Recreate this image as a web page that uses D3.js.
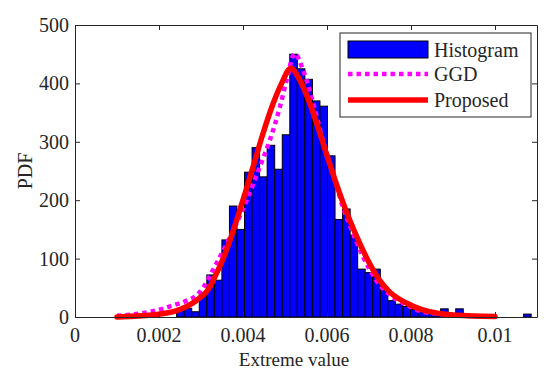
<!DOCTYPE html>
<html>
<head>
<meta charset="utf-8">
<script src="https://cdn.jsdelivr.net/npm/d3@7"></script>
<style>
  body { margin: 0; background: #fff; }
  svg { display: block; }
  text { font-family: "Liberation Serif", "Times New Roman", serif; fill: #262626; }
</style>
</head>
<body>
<svg id="chart"></svg>
<script>
// histogram bins (left edge of first bin, bin width, counts per bin)
const binStart = 0.00242;
const binWidth = 0.0001796;
const counts = [12, 15, 9, 38, 72, 63, 132, 190, 150, 248, 290, 240, 294, 253, 312, 450,
  425, 407, 370, 361, 276, 167, 185, 140, 82, 76, 82, 46, 28, 22, 18, 13, 9, 6, 5, 14,
  5, 14, 2, 1, 1, 0, 0, 0, 0, 0, 5];

// fitted curves
const ggdX = [0.00100, 0.00155, 0.00203, 0.00234, 0.00266, 0.00294, 0.00337, 0.00377, 0.00409,
  0.00440, 0.00464, 0.00488, 0.00504, 0.00523, 0.00543, 0.00567, 0.00590, 0.00614, 0.00638,
  0.00662, 0.00686, 0.00717, 0.00749, 0.00789, 0.00828, 0.00907, 0.01000];
const ggdY = [2, 6, 13, 20, 28, 40, 92, 149, 200, 257, 303, 360, 406, 451, 423, 366, 303, 246,
  188, 143, 103, 63, 38, 21, 9, 3, 1];

const propX = [0.00100, 0.00203, 0.00254, 0.00294, 0.00320, 0.00330, 0.00361, 0.00385, 0.00405,
  0.00424, 0.00448, 0.00472, 0.00492, 0.00514, 0.00535, 0.00559, 0.00583, 0.00606, 0.00630,
  0.00654, 0.00678, 0.00701, 0.00725, 0.00749, 0.00789, 0.00828, 0.00868, 0.00907, 0.01000];
const propY = [0, 5, 14, 31, 50, 64, 115, 166, 212, 257, 315, 366, 400, 426, 406, 366, 315, 263,
  212, 166, 126, 92, 63, 43, 24, 12, 6, 3, 1];

const xTicks = [0, 0.002, 0.004, 0.006, 0.008, 0.01];
const xTickLabels = ["0", "0.002", "0.004", "0.006", "0.008", "0.01"];
const yTicks = [0, 100, 200, 300, 400, 500];
const legendLabels = ["Histogram", "GGD", "Proposed"];

const width = 550, height = 375;
const margin = { top: 25, right: 13, bottom: 58, left: 75 };
const axisColor = "#262626";

const svg = d3.select("#chart").attr("width", width).attr("height", height);

const x = d3.scaleLinear().domain([0, 0.011]).range([margin.left, width - margin.right]);
const y = d3.scaleLinear().domain([0, 500]).range([height - margin.bottom, margin.top]);

// bars
const bins = counts.map((c, i) => ({ x0: binStart + i * binWidth, x1: binStart + (i + 1) * binWidth, c }));
svg.append("g")
  .selectAll("rect")
  .data(bins.filter(d => d.c > 0))
  .join("rect")
  .attr("x", d => x(d.x0))
  .attr("width", d => x(d.x1) - x(d.x0))
  .attr("y", d => y(d.c))
  .attr("height", d => y(0) - y(d.c))
  .attr("fill", "#0000ff")
  .attr("stroke", "#000")
  .attr("stroke-width", 1);

// curves
const line = d3.line().x(d => x(d[0])).y(d => y(d[1])).curve(d3.curveMonotoneX);

svg.append("path")
  .datum(ggdX.map((v, i) => [v, ggdY[i]]))
  .attr("d", line)
  .attr("fill", "none")
  .attr("stroke", "#ff00ff")
  .attr("stroke-width", 4.5)
  .attr("stroke-dasharray", "4.5,4");

svg.append("path")
  .datum(propX.map((v, i) => [v, propY[i]]))
  .attr("d", line)
  .attr("fill", "none")
  .attr("stroke", "#ff0000")
  .attr("stroke-width", 5.5)
  .attr("stroke-linecap", "round");

// axes (ticks pointing inward, box all round)
const x0 = margin.left, x1 = width - margin.right;
const y0 = height - margin.bottom, y1 = margin.top;

function styleAxis(g) {
  g.selectAll("path, line").attr("stroke", axisColor).attr("stroke-width", 1);
  g.selectAll("text").remove();
}

svg.append("g").attr("transform", `translate(0,${y0})`)
  .call(d3.axisBottom(x).tickValues(xTicks).tickSizeInner(-5).tickSizeOuter(0))
  .call(styleAxis);
svg.append("g").attr("transform", `translate(0,${y1})`)
  .call(d3.axisTop(x).tickValues(xTicks).tickSizeInner(-5).tickSizeOuter(0))
  .call(styleAxis);
svg.append("g").attr("transform", `translate(${x0},0)`)
  .call(d3.axisLeft(y).tickValues(yTicks).tickSizeInner(-5).tickSizeOuter(0))
  .call(styleAxis);
svg.append("g").attr("transform", `translate(${x1},0)`)
  .call(d3.axisRight(y).tickValues(yTicks).tickSizeInner(-5).tickSizeOuter(0))
  .call(styleAxis);

// tick labels
svg.append("g")
  .selectAll("text")
  .data(xTicks)
  .join("text")
  .attr("x", d => x(d))
  .attr("y", y0 + 25)
  .attr("text-anchor", "middle")
  .attr("font-size", 20)
  .text((d, i) => xTickLabels[i]);

svg.append("g")
  .selectAll("text")
  .data(yTicks)
  .join("text")
  .attr("x", x0 - 6)
  .attr("y", d => y(d) + 7)
  .attr("text-anchor", "end")
  .attr("font-size", 20)
  .text(d => d);

// axis titles
svg.append("text")
  .attr("x", 294)
  .attr("y", 366)
  .attr("text-anchor", "middle")
  .attr("font-size", 19)
  .text("Extreme value");

svg.append("text")
  .attr("transform", `translate(32,${(y0 + y1) / 2}) rotate(-90)`)
  .attr("text-anchor", "middle")
  .attr("font-size", 20)
  .text("PDF");

// legend
const lg = svg.append("g").attr("transform", "translate(340,33)");
lg.append("rect")
  .attr("width", 191).attr("height", 84)
  .attr("fill", "#fff").attr("stroke", axisColor).attr("stroke-width", 1);

const rowY = [17, 41, 67];
lg.append("rect")
  .attr("x", 8).attr("y", rowY[0] - 9).attr("width", 80).attr("height", 17)
  .attr("fill", "#0000ff").attr("stroke", "#000");
lg.append("line")
  .attr("x1", 8).attr("x2", 88).attr("y1", rowY[1]).attr("y2", rowY[1])
  .attr("stroke", "#ff00ff").attr("stroke-width", 4.5).attr("stroke-dasharray", "4.5,4");
lg.append("line")
  .attr("x1", 8).attr("x2", 88).attr("y1", rowY[2]).attr("y2", rowY[2])
  .attr("stroke", "#ff0000").attr("stroke-width", 5.5);

lg.selectAll("text.lbl")
  .data(legendLabels)
  .join("text")
  .attr("class", "lbl")
  .attr("x", 94)
  .attr("y", (d, i) => rowY[i] + 7)
  .attr("font-size", 20)
  .text(d => d);
</script>
</body>
</html>
